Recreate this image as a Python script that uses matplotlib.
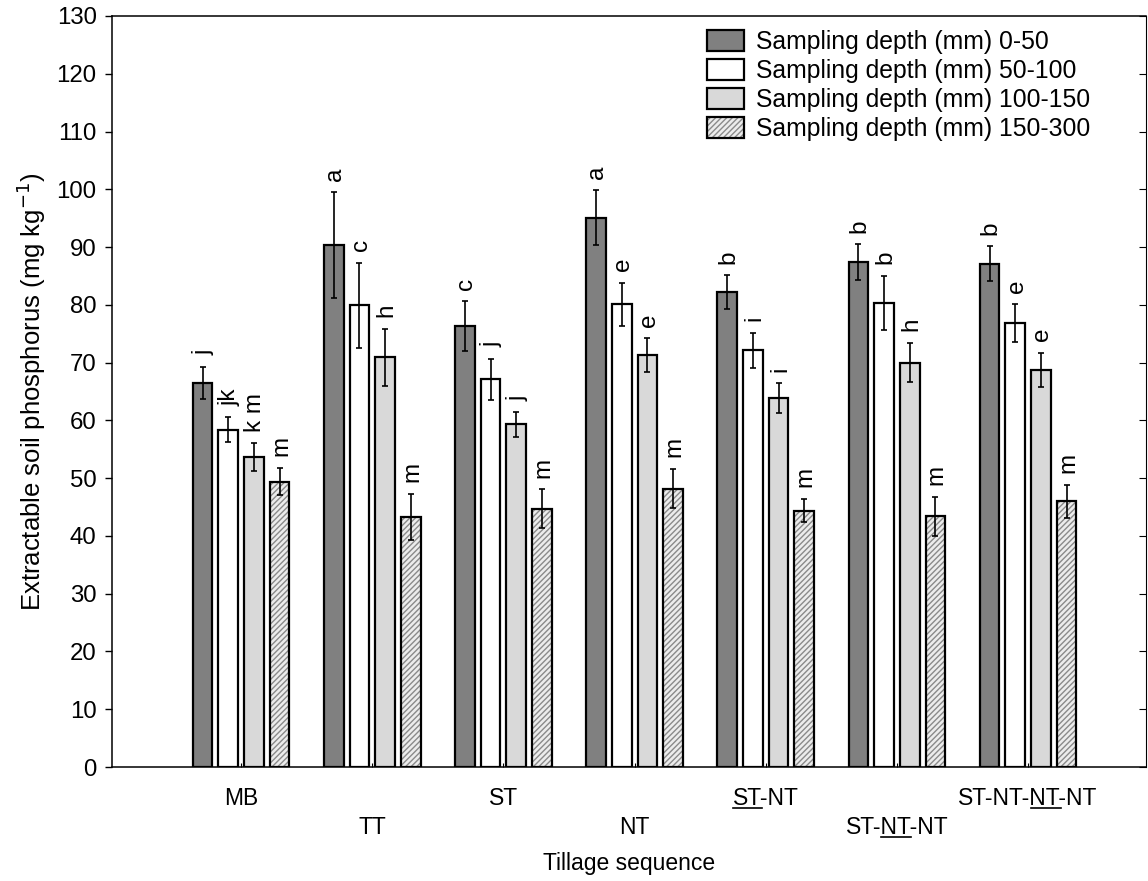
import matplotlib
matplotlib.use('Agg')
import matplotlib.pyplot as plt
import numpy as np
from matplotlib.lines import Line2D
from matplotlib.legend_handler import HandlerTuple

plt.rcParams['font.family'] = ['Liberation Sans', 'DejaVu Sans']
plt.rcParams['font.size'] = 16

# tillage sequences, with the underlined part of each label (char span)
sequences = ['MB', 'TT', 'ST', 'NT', 'ST-NT', 'ST-NT-NT', 'ST-NT-NT-NT']
underlined = [None, None, None, None, (0, 2), (3, 5), (6, 8)]
depths = ['0-50', '50-100', '100-150', '150-300']

# extractable P (mg/kg) per depth
p_0_50 = [66.5, 90.3, 76.3, 95.1, 82.2, 87.4, 87.1]
p_50_100 = [58.4, 79.9, 67.1, 80.1, 72.1, 80.3, 76.8]
p_100_150 = [53.6, 70.9, 59.3, 71.3, 63.8, 70.0, 68.7]
p_150_300 = [49.4, 43.3, 44.7, 48.2, 44.4, 43.4, 46.0]

# error bars
err_0_50 = [2.8, 9.2, 4.3, 4.7, 2.9, 3.1, 3.0]
err_50_100 = [2.1, 7.4, 3.6, 3.7, 3.1, 4.7, 3.3]
err_100_150 = [2.4, 5.0, 2.1, 2.9, 2.6, 3.4, 3.0]
err_150_300 = [2.4, 4.0, 3.4, 3.4, 2.0, 3.4, 2.9]

# significance letters
let_0_50 = ['j', 'a', 'c', 'a', 'b', 'b', 'b']
let_50_100 = ['jk', 'c', 'j', 'e', 'i', 'b', 'e']
let_100_150 = ['k m', 'h', 'j', 'e', 'i', 'h', 'e']
let_150_300 = ['m', 'm', 'm', 'm', 'm', 'm', 'm']

values = [p_0_50, p_50_100, p_100_150, p_150_300]
errors = [err_0_50, err_50_100, err_100_150, err_150_300]
letters = [let_0_50, let_50_100, let_100_150, let_150_300]
faces = ['#808080', 'white', '#d9d9d9', '#ececec']

fig = plt.figure(figsize=(11.48, 8.81), dpi=100)
ax = fig.add_axes([112/1148, 1 - 767/881, 1034/1148, 751/881])

x = np.arange(len(sequences))
step = 0.196
width = 0.15
handles = []
for i in range(4):
    xi = x + (i - 1.5) * step
    if i == 3:
        hb = ax.bar(xi, values[i], width, color=faces[i], edgecolor='#8a8a8a',
                    hatch='//////', linewidth=0, zorder=2)
        eb = ax.bar(xi, values[i], width, color='none', edgecolor='black',
                    linewidth=1.6, zorder=3)
        handles.append((hb[0], eb[0]))
    else:
        b = ax.bar(xi, values[i], width, color=faces[i], edgecolor='black',
                   linewidth=1.6, zorder=3)
        handles.append(b[0])
    ax.errorbar(xi, values[i], yerr=errors[i], fmt='none', ecolor='black',
                elinewidth=1.2, capsize=2.5, capthick=1.2, zorder=4)
    for xx, v, e, s in zip(xi, values[i], errors[i], letters[i]):
        ax.text(xx + 0.01, v + e + 2.0, s, rotation=90, ha='center', va='bottom',
                fontsize=17.5)

ax.set_ylim(0, 130)
ax.set_xlim(-0.984, 6.899)
ax.set_yticks(np.arange(0, 131, 10))
ax.set_xticks(x)
ax.tick_params(axis='x', direction='in', length=3, labelbottom=False)
ax.tick_params(axis='y', direction='out', length=5, width=1, pad=6, labelsize=17.3)
for sp in ax.spines.values():
    sp.set_linewidth(1.1)
ax.spines['right'].set_visible(False)

ax2 = ax.twinx()
ax2.set_ylim(0, 130)
ax2.set_yticks(np.arange(0, 131, 10))
ax2.tick_params(axis='y', direction='in', length=5, width=0.8, labelright=False)
for k, sp in ax2.spines.items():
    sp.set_visible(k == 'right')
ax2.spines['right'].set_linewidth(0.8)

ax.set_ylabel('Extractable soil phosphorus (mg kg$^{-1}$)', fontsize=18.5, labelpad=6)

# x labels on two alternating rows
trans = ax.get_xaxis_transform()
label_texts = []
for j, name in enumerate(sequences):
    yb = -0.0507 if j % 2 == 0 else -0.0893
    t = ax.text(x[j], yb, name, ha='center', va='baseline', fontsize=16.5,
                transform=trans)
    label_texts.append((t, yb))

fig.text((112 + 1146) / 2 / 1148, 1 - 870/881, 'Tillage sequence', ha='center',
         va='baseline', fontsize=16.5)

leg = ax.legend(handles, ['Sampling depth (mm) ' + d for d in depths],
                handler_map={tuple: HandlerTuple(ndivide=1)},
                loc='upper left', bbox_to_anchor=(0.575, 0.981), frameon=False,
                borderpad=0, borderaxespad=0, handlelength=1.5, handleheight=0.93,
                labelspacing=0.2, handletextpad=0.5, fontsize=17.8)

# underline parts of labels
fig.canvas.draw()
renderer = fig.canvas.get_renderer()
inv = fig.transFigure.inverted()
for (t, yb), span in zip(label_texts, underlined):
    if span is None:
        continue
    s = t.get_text()
    fp = t.get_fontproperties()
    bb = t.get_window_extent(renderer)
    w0 = renderer.get_text_width_height_descent(s[:span[0]], fp, ismath=False)[0] if span[0] else 0
    w1 = renderer.get_text_width_height_descent(s[:span[1]], fp, ismath=False)[0]
    base = trans.transform((0, yb))[1]
    p0 = inv.transform((bb.x0 + w0, base - 3))
    p1 = inv.transform((bb.x0 + w1, base - 3))
    fig.add_artist(Line2D([p0[0], p1[0]], [p0[1], p1[1]], color='black',
                          linewidth=1.2, transform=fig.transFigure))

fig.savefig('out.png', dpi=100)
